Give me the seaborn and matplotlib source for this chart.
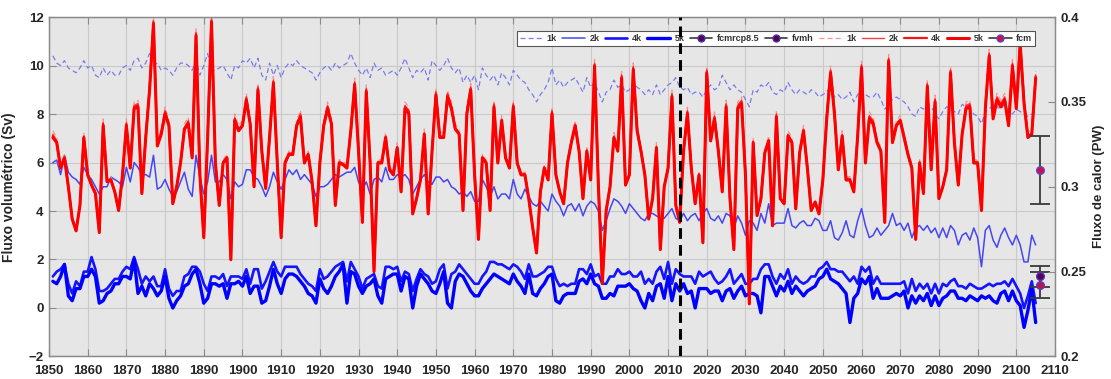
import matplotlib
matplotlib.use("Agg")
import matplotlib.pyplot as plt
import seaborn as sns
from matplotlib.lines import Line2D
from matplotlib.ticker import FuncFormatter

# Annual values, 1851-2105
years = list(range(1851, 2106))

# Volume transport (Sv), left axis
blue_1k = [
    10.4, 10.1, 10.0, 10.2, 9.9, 9.8, 9.7, 9.9, 10.2, 9.9,
    10.0, 9.6, 9.5, 9.9, 9.6, 9.8, 9.6, 9.6, 9.9, 10.0,
    9.8, 10.2, 10.3, 9.9, 10.1, 10.5, 10.0, 10.1, 9.8, 9.9,
    9.8, 9.6, 9.9, 10.1, 10.1, 10.0, 9.8, 10.2, 9.6, 10.0,
    10.5, 9.8, 9.8, 9.9, 10.0, 9.7, 9.4, 10.0, 9.9, 10.2,
    10.1, 10.3, 9.9, 10.3, 9.6, 9.4, 10.1, 9.6, 10.0, 9.5,
    9.9, 10.1, 10.0, 10.2, 10.0, 9.9, 9.8, 9.7, 9.4, 9.7,
    9.9, 10.0, 9.8, 10.1, 9.9, 10.0, 10.1, 10.5, 10.1, 9.8,
    9.6, 9.9, 9.5, 10.1, 9.8, 9.9, 9.6, 9.7, 9.8, 9.6,
    9.9, 10.3, 9.9, 9.5, 9.8, 9.7, 9.9, 9.4, 10.2, 10.0,
    9.8, 10.0, 10.3, 9.9, 9.7, 9.9, 9.3, 9.6, 9.3, 9.6,
    9.0, 9.9, 9.6, 9.4, 9.6, 9.2, 9.7, 9.5, 9.2, 9.8,
    9.6, 9.4, 9.3, 9.0, 8.8, 8.5, 8.8, 9.0, 9.3, 9.9,
    9.2, 9.4, 9.1, 9.3, 9.4, 9.5, 9.2, 8.9, 9.5, 9.1,
    9.3, 8.9, 8.5, 8.9, 9.0, 9.4, 9.1, 9.2, 8.9, 9.0,
    9.3, 9.1, 9.0, 8.8, 9.0, 8.8, 9.2, 8.8, 9.0, 9.2,
    9.3, 9.5, 9.1, 9.0, 9.1, 8.8, 8.9, 8.9, 8.7, 9.0,
    9.2, 9.0, 9.1, 9.6, 9.3, 9.0, 9.2, 9.0, 8.9, 8.6,
    8.3, 9.0, 8.9, 9.2, 9.1, 9.3, 8.9, 8.8, 9.0, 8.9,
    9.3, 9.0, 8.8, 9.0, 8.9, 8.8, 9.0, 8.9, 8.7, 8.8,
    8.9, 9.2, 8.7, 8.8, 8.6, 8.7, 8.9, 8.5, 8.8, 9.0,
    8.8, 8.7, 8.7, 8.9, 8.6, 8.2, 8.4, 8.6, 8.7, 8.6,
    8.5, 8.3, 8.0, 7.9, 8.3, 8.2, 8.4, 8.3, 8.0, 7.8,
    8.1, 8.3, 8.2, 8.1, 8.0, 8.4, 8.3, 8.2, 8.0, 7.9,
    7.6, 8.1, 8.2, 8.4, 8.3, 8.2, 8.4, 8.1, 8.0, 8.2,
    8.1, 8.0, 7.9, 8.0, 8.1,
]

blue_2k = [
    6.0, 6.1, 5.5, 6.3, 5.6, 5.4, 5.3, 5.1, 5.8, 5.5,
    5.3, 5.0, 4.7, 5.0, 5.0, 5.4, 5.3, 5.2, 5.0, 5.8,
    5.2, 6.0, 5.8, 5.5, 5.5, 5.4, 6.3, 4.9, 5.0, 5.3,
    4.9, 4.6, 4.8, 5.2, 5.6, 4.9, 4.6, 6.3, 5.4, 4.7,
    5.2, 6.3, 5.2, 5.2, 5.5, 5.3, 4.5, 5.2, 5.0, 5.1,
    5.7, 5.7, 5.4, 5.3, 5.0, 4.6, 5.0, 5.6, 5.2, 4.9,
    5.3, 5.7, 5.5, 5.7, 5.3, 5.5, 5.3, 5.1, 4.6, 5.0,
    5.0, 5.1, 5.3, 5.5, 5.4, 5.5, 5.6, 5.6, 5.8, 5.2,
    4.9, 5.2, 4.7, 5.3, 5.4, 5.2, 5.8, 5.3, 5.3, 5.5,
    5.4, 5.5, 5.3, 4.7, 5.0, 5.3, 5.5, 5.2, 5.1, 5.4,
    5.4, 5.2, 5.3, 5.0, 4.9, 4.7, 4.8, 4.6, 4.8, 4.4,
    4.4, 5.3, 5.0, 4.6, 5.0, 4.5, 4.7, 4.7, 4.5, 5.3,
    4.7, 4.5, 4.9, 4.6, 4.3, 4.2, 4.4, 4.2, 4.0, 4.7,
    4.4, 4.2, 3.8, 4.2, 4.3, 4.0, 4.3, 3.8, 4.2, 4.4,
    4.3, 4.0, 3.2, 3.6, 4.1, 4.5, 4.4, 4.2, 3.9, 4.3,
    4.1, 3.9, 3.7, 3.6, 3.9, 3.9, 3.8, 3.7, 3.7, 3.9,
    4.1, 3.7, 3.6, 3.9, 3.6, 3.8, 3.9, 3.6, 3.9, 4.1,
    3.7, 3.6, 3.8, 3.5, 3.9, 3.8, 3.3, 3.8, 3.5, 3.0,
    3.6, 3.5, 3.2, 3.9, 3.5, 4.3, 3.4, 3.5, 3.5, 3.5,
    4.1, 3.4, 3.3, 3.5, 3.6, 3.4, 3.4, 3.7, 3.6, 3.2,
    3.2, 3.6, 2.9, 2.8, 3.1, 3.6, 3.0, 2.9, 3.6, 4.1,
    3.4, 2.9, 3.0, 3.3, 3.0, 3.2, 3.4, 3.9, 3.4, 3.5,
    3.2, 3.5, 2.9, 3.3, 3.4, 3.2, 3.4, 3.1, 3.3, 2.9,
    3.3, 2.9, 3.4, 3.2, 2.6, 3.0, 3.1, 2.8, 3.3, 2.9,
    1.7, 3.2, 3.4, 2.8, 2.5, 3.0, 3.3, 2.9, 2.6, 3.0,
    2.6, 1.9, 1.9, 3.0, 2.6,
]

blue_4k = [
    1.3, 1.5, 1.6, 1.8, 1.0, 0.6, 1.1, 0.9, 1.5, 1.5,
    2.1, 1.6, 0.7, 0.7, 0.8, 1.0, 1.2, 1.2, 1.5, 1.7,
    1.6, 2.1, 1.6, 1.0, 1.3, 1.1, 1.3, 0.9, 0.9, 1.6,
    0.8, 0.5, 0.7, 0.7, 1.3, 1.4, 1.7, 1.7, 1.5, 1.0,
    0.7, 1.3, 1.3, 1.2, 1.4, 0.9, 1.3, 1.3, 1.3, 1.2,
    1.6, 1.0, 1.6, 1.6, 0.8, 1.1, 1.5, 1.9, 1.5, 1.3,
    1.7, 1.7, 1.7, 1.7, 1.4, 1.2, 1.0, 0.9, 0.7, 1.6,
    1.2, 1.3, 1.5, 1.7, 1.8, 1.9, 1.1, 1.9, 1.6, 1.3,
    0.8, 1.2, 1.3, 1.4, 0.9, 0.8, 1.7, 1.7, 1.6, 1.7,
    1.1, 1.5, 1.4, 0.7, 1.2, 1.6, 1.4, 1.3, 1.0, 1.1,
    1.6, 1.8, 0.8, 1.4, 1.5, 1.8, 1.6, 1.4, 1.2, 1.0,
    1.0, 1.3, 1.5, 1.9, 1.9, 1.8, 1.8, 1.7, 1.6, 1.8,
    1.7, 1.5, 1.2, 1.8, 1.3, 1.3, 1.4, 1.5, 1.7, 1.7,
    1.2, 0.9, 1.0, 0.9, 1.0, 1.0, 1.6, 1.6, 1.4, 1.8,
    1.3, 1.4, 1.0, 1.0, 1.3, 1.3, 1.6, 1.4, 1.4, 1.5,
    1.3, 1.3, 1.5, 1.0, 1.2, 1.0, 1.5, 1.7, 1.2, 1.9,
    1.0, 1.6, 1.4, 1.3, 1.3, 1.3, 1.0, 1.5, 1.3, 1.4,
    1.5, 1.2, 1.0, 1.1, 1.3, 1.6, 1.0, 1.2, 1.4, 1.0,
    1.0, 1.2, 1.2, 1.6, 1.8, 1.8, 1.3, 1.0, 1.4, 1.2,
    1.6, 1.0, 1.3, 1.1, 1.0, 1.1, 1.3, 1.3, 1.6, 1.7,
    1.9, 1.6, 1.6, 1.5, 1.5, 1.3, 1.1, 1.3, 1.0, 1.7,
    1.5, 1.7, 1.0, 1.3, 1.0, 1.0, 1.0, 1.0, 1.0, 1.0,
    1.1, 0.6, 1.2, 0.7, 1.0, 0.8, 1.0, 0.6, 1.0, 0.6,
    1.0, 0.9, 1.1, 1.2, 0.9, 0.9, 0.8, 1.0, 0.9, 0.8,
    0.8, 0.9, 1.0, 0.9, 1.0, 1.0, 1.1, 0.9, 1.2, 0.9,
    0.6, 0.0, 0.5, 1.1, 0.2,
]

blue_5k = [
    1.1, 1.0, 1.3, 1.8, 0.5, 0.3, 0.8, 0.8, 1.3, 1.3,
    1.6, 1.3, 0.2, 0.3, 0.6, 0.7, 1.0, 1.0, 1.3, 1.3,
    1.2, 2.0, 0.6, 0.9, 0.5, 1.0, 0.8, 0.5, 0.7, 1.3,
    0.4, 0.0, 0.3, 0.5, 0.9, 1.0, 1.4, 1.6, 1.0, 0.2,
    0.4, 1.0, 1.0, 0.9, 1.0, 0.4, 1.0, 1.0, 1.1, 0.9,
    1.3, 0.6, 0.9, 0.9, 0.2, 0.3, 0.9, 1.6, 1.0, 0.6,
    1.2, 1.4, 1.4, 1.3, 1.1, 0.9, 0.6, 0.5, 0.2, 1.2,
    0.8, 0.6, 0.9, 1.3, 1.5, 1.8, 0.2, 1.5, 1.4, 0.9,
    0.6, 0.9, 1.0, 1.2, 0.5, 0.2, 1.2, 1.3, 1.4, 1.4,
    0.7, 1.3, 1.2, 0.0, 0.9, 1.4, 1.2, 1.0, 0.7, 0.6,
    1.0, 1.5, 0.2, 0.0, 1.1, 1.4, 1.3, 1.0, 0.7, 0.5,
    0.5, 0.8, 1.0, 1.2, 1.4, 1.3, 1.2, 1.1, 1.0, 1.4,
    1.1, 0.9, 0.6, 1.4, 0.6, 0.5, 0.8, 1.0, 1.3, 1.4,
    0.3, 0.2, 0.5, 0.6, 0.6, 0.6, 1.1, 1.2, 1.0, 1.4,
    1.0, 0.9, 0.4, 0.4, 0.6, 0.5, 0.9, 0.9, 0.9, 1.0,
    0.8, 0.7, 0.3, 0.0, 0.6, 0.3, 0.9, 1.0, 0.4, 1.3,
    0.3, 1.0, 0.7, 1.0, 0.6, 0.7, 0.0, 0.8, 0.8, 0.8,
    0.6, 0.7, 0.7, 0.3, 0.7, 0.8, 0.4, 0.7, 0.9, 0.5,
    0.6, 0.6, 0.5, -0.2, 1.3, 1.3, 0.9, 0.5, 0.9, 0.7,
    1.1, 0.6, 0.9, 0.7, 0.5, 0.7, 0.8, 0.9, 1.2, 1.3,
    1.6, 1.2, 1.1, 1.0, 0.8, 0.6, -0.6, 0.4, 0.6, 1.2,
    1.0, 1.3, 0.4, 0.8, 0.4, 0.4, 0.4, 0.5, 0.6, 0.5,
    0.7, 0.0, 0.5, 0.2, 0.5, 0.3, 0.6, 0.1, 0.5, 0.1,
    0.4, 0.5, 0.7, 0.7, 0.4, 0.4, 0.3, 0.5, 0.4, 0.3,
    0.5, 0.4, 0.5, 0.3, 0.2, 0.6, 0.7, 0.3, 0.7, 0.3,
    0.1, -0.8, -0.1, 0.8, -0.6,
]

# Heat transport (PW), right axis
red_1k = [
    0.333, 0.329, 0.313, 0.319, 0.301, 0.282, 0.275, 0.290, 0.332, 0.309,
    0.302, 0.298, 0.274, 0.340, 0.305, 0.306, 0.298, 0.287, 0.309, 0.340,
    0.313, 0.350, 0.351, 0.297, 0.332, 0.361, 0.400, 0.327, 0.334, 0.347,
    0.339, 0.291, 0.301, 0.316, 0.337, 0.341, 0.319, 0.393, 0.309, 0.271,
    0.332, 0.400, 0.316, 0.290, 0.316, 0.319, 0.258, 0.343, 0.336, 0.339,
    0.355, 0.340, 0.301, 0.361, 0.323, 0.300, 0.332, 0.365, 0.316, 0.271,
    0.316, 0.321, 0.322, 0.339, 0.345, 0.316, 0.321, 0.304, 0.278, 0.316,
    0.339, 0.350, 0.340, 0.290, 0.316, 0.315, 0.313, 0.336, 0.364, 0.323,
    0.280, 0.360, 0.316, 0.251, 0.316, 0.316, 0.332, 0.312, 0.309, 0.326,
    0.298, 0.350, 0.347, 0.285, 0.294, 0.306, 0.334, 0.285, 0.323, 0.358,
    0.332, 0.332, 0.357, 0.350, 0.337, 0.334, 0.287, 0.347, 0.361, 0.309,
    0.270, 0.319, 0.316, 0.287, 0.351, 0.316, 0.342, 0.319, 0.313, 0.351,
    0.316, 0.309, 0.309, 0.294, 0.277, 0.262, 0.298, 0.313, 0.306, 0.347,
    0.309, 0.298, 0.291, 0.316, 0.329, 0.339, 0.323, 0.294, 0.323, 0.306,
    0.375, 0.301, 0.244, 0.287, 0.301, 0.332, 0.323, 0.368, 0.302, 0.309,
    0.373, 0.336, 0.323, 0.309, 0.282, 0.294, 0.326, 0.264, 0.301, 0.313,
    0.357, 0.290, 0.280, 0.323, 0.347, 0.313, 0.291, 0.309, 0.268, 0.371,
    0.330, 0.344, 0.323, 0.298, 0.351, 0.294, 0.264, 0.350, 0.353, 0.309,
    0.232, 0.329, 0.284, 0.294, 0.322, 0.330, 0.278, 0.345, 0.294, 0.291,
    0.333, 0.329, 0.288, 0.322, 0.336, 0.313, 0.287, 0.292, 0.285, 0.306,
    0.344, 0.371, 0.347, 0.312, 0.333, 0.306, 0.306, 0.298, 0.333, 0.374,
    0.316, 0.344, 0.341, 0.329, 0.323, 0.280, 0.378, 0.329, 0.339, 0.342,
    0.332, 0.321, 0.313, 0.270, 0.316, 0.298, 0.363, 0.312, 0.354, 0.294,
    0.301, 0.312, 0.371, 0.329, 0.302, 0.334, 0.350, 0.351, 0.316, 0.316,
    0.287, 0.350, 0.381, 0.344, 0.355, 0.351, 0.355, 0.339, 0.375, 0.350,
    0.388, 0.353, 0.332, 0.334, 0.368,
]

red_2k = [
    0.331, 0.327, 0.312, 0.318, 0.300, 0.281, 0.274, 0.289, 0.330, 0.308,
    0.301, 0.297, 0.273, 0.338, 0.304, 0.305, 0.297, 0.286, 0.308, 0.338,
    0.312, 0.348, 0.349, 0.296, 0.330, 0.359, 0.398, 0.325, 0.332, 0.345,
    0.337, 0.290, 0.300, 0.315, 0.335, 0.339, 0.318, 0.391, 0.308, 0.270,
    0.330, 0.399, 0.315, 0.289, 0.315, 0.318, 0.257, 0.341, 0.334, 0.337,
    0.353, 0.338, 0.300, 0.359, 0.322, 0.299, 0.330, 0.363, 0.315, 0.270,
    0.315, 0.320, 0.320, 0.337, 0.343, 0.315, 0.320, 0.303, 0.277, 0.315,
    0.337, 0.348, 0.338, 0.289, 0.315, 0.314, 0.312, 0.334, 0.362, 0.322,
    0.279, 0.358, 0.315, 0.250, 0.315, 0.315, 0.330, 0.311, 0.308, 0.324,
    0.297, 0.348, 0.345, 0.284, 0.293, 0.305, 0.332, 0.284, 0.322, 0.356,
    0.330, 0.330, 0.355, 0.348, 0.335, 0.332, 0.286, 0.345, 0.359, 0.308,
    0.269, 0.318, 0.315, 0.286, 0.349, 0.315, 0.340, 0.318, 0.312, 0.349,
    0.315, 0.308, 0.308, 0.293, 0.276, 0.261, 0.297, 0.312, 0.305, 0.345,
    0.308, 0.297, 0.290, 0.315, 0.327, 0.337, 0.322, 0.293, 0.322, 0.305,
    0.373, 0.300, 0.243, 0.286, 0.300, 0.330, 0.322, 0.366, 0.301, 0.308,
    0.371, 0.334, 0.322, 0.308, 0.281, 0.293, 0.324, 0.263, 0.300, 0.312,
    0.355, 0.289, 0.279, 0.322, 0.345, 0.312, 0.290, 0.308, 0.267, 0.369,
    0.328, 0.342, 0.322, 0.297, 0.349, 0.293, 0.263, 0.348, 0.351, 0.308,
    0.231, 0.327, 0.283, 0.293, 0.321, 0.328, 0.277, 0.343, 0.293, 0.290,
    0.331, 0.327, 0.287, 0.321, 0.334, 0.312, 0.286, 0.291, 0.284, 0.305,
    0.342, 0.369, 0.345, 0.311, 0.331, 0.305, 0.305, 0.297, 0.331, 0.372,
    0.315, 0.342, 0.339, 0.327, 0.322, 0.279, 0.376, 0.327, 0.337, 0.340,
    0.330, 0.320, 0.312, 0.269, 0.315, 0.296, 0.361, 0.311, 0.352, 0.293,
    0.300, 0.311, 0.369, 0.327, 0.301, 0.332, 0.348, 0.349, 0.315, 0.315,
    0.286, 0.348, 0.379, 0.342, 0.353, 0.349, 0.353, 0.337, 0.373, 0.348,
    0.386, 0.351, 0.330, 0.332, 0.366,
]

red_4k = [
    0.330, 0.326, 0.311, 0.317, 0.300, 0.281, 0.274, 0.289, 0.329, 0.307,
    0.301, 0.296, 0.273, 0.337, 0.303, 0.304, 0.297, 0.286, 0.307, 0.337,
    0.311, 0.347, 0.348, 0.296, 0.329, 0.358, 0.397, 0.324, 0.331, 0.344,
    0.336, 0.290, 0.300, 0.314, 0.334, 0.338, 0.317, 0.390, 0.307, 0.270,
    0.329, 0.398, 0.314, 0.289, 0.314, 0.317, 0.257, 0.340, 0.333, 0.336,
    0.352, 0.337, 0.300, 0.358, 0.321, 0.299, 0.329, 0.362, 0.314, 0.270,
    0.314, 0.319, 0.319, 0.336, 0.342, 0.314, 0.319, 0.303, 0.277, 0.314,
    0.336, 0.347, 0.337, 0.289, 0.314, 0.313, 0.311, 0.333, 0.361, 0.321,
    0.279, 0.357, 0.314, 0.250, 0.314, 0.314, 0.329, 0.310, 0.307, 0.323,
    0.297, 0.347, 0.344, 0.284, 0.293, 0.304, 0.331, 0.284, 0.321, 0.355,
    0.329, 0.329, 0.354, 0.347, 0.334, 0.331, 0.286, 0.344, 0.358, 0.307,
    0.269, 0.317, 0.314, 0.286, 0.348, 0.314, 0.339, 0.317, 0.311, 0.348,
    0.314, 0.307, 0.307, 0.293, 0.276, 0.261, 0.297, 0.311, 0.304, 0.344,
    0.307, 0.297, 0.290, 0.314, 0.326, 0.336, 0.321, 0.293, 0.321, 0.304,
    0.372, 0.300, 0.243, 0.286, 0.300, 0.329, 0.321, 0.365, 0.301, 0.307,
    0.370, 0.333, 0.321, 0.307, 0.281, 0.293, 0.323, 0.263, 0.300, 0.311,
    0.354, 0.289, 0.279, 0.321, 0.344, 0.311, 0.290, 0.307, 0.267, 0.368,
    0.327, 0.341, 0.321, 0.297, 0.348, 0.293, 0.263, 0.347, 0.350, 0.307,
    0.231, 0.326, 0.283, 0.293, 0.320, 0.327, 0.277, 0.342, 0.293, 0.290,
    0.330, 0.326, 0.287, 0.320, 0.333, 0.311, 0.286, 0.291, 0.284, 0.304,
    0.341, 0.368, 0.344, 0.310, 0.330, 0.304, 0.304, 0.297, 0.330, 0.371,
    0.314, 0.341, 0.338, 0.326, 0.321, 0.279, 0.375, 0.326, 0.336, 0.339,
    0.329, 0.319, 0.311, 0.269, 0.314, 0.296, 0.360, 0.310, 0.351, 0.293,
    0.300, 0.310, 0.368, 0.326, 0.301, 0.331, 0.347, 0.348, 0.314, 0.314,
    0.286, 0.347, 0.378, 0.341, 0.352, 0.348, 0.352, 0.336, 0.372, 0.347,
    0.385, 0.350, 0.329, 0.331, 0.365,
]

red_5k = [
    0.329, 0.326, 0.311, 0.317, 0.300, 0.281, 0.274, 0.289, 0.329, 0.307,
    0.301, 0.296, 0.273, 0.336, 0.303, 0.304, 0.297, 0.286, 0.307, 0.336,
    0.311, 0.346, 0.347, 0.296, 0.329, 0.357, 0.396, 0.324, 0.331, 0.343,
    0.336, 0.290, 0.300, 0.314, 0.334, 0.337, 0.317, 0.389, 0.307, 0.270,
    0.329, 0.397, 0.314, 0.289, 0.314, 0.317, 0.257, 0.339, 0.333, 0.336,
    0.351, 0.337, 0.300, 0.357, 0.321, 0.299, 0.329, 0.361, 0.314, 0.270,
    0.314, 0.319, 0.319, 0.336, 0.341, 0.314, 0.319, 0.303, 0.277, 0.314,
    0.336, 0.346, 0.337, 0.289, 0.314, 0.313, 0.311, 0.333, 0.360, 0.321,
    0.279, 0.356, 0.314, 0.250, 0.314, 0.314, 0.329, 0.310, 0.307, 0.323,
    0.297, 0.346, 0.343, 0.284, 0.293, 0.304, 0.331, 0.284, 0.321, 0.354,
    0.329, 0.329, 0.353, 0.346, 0.334, 0.331, 0.286, 0.343, 0.357, 0.307,
    0.269, 0.317, 0.314, 0.286, 0.347, 0.314, 0.339, 0.317, 0.311, 0.347,
    0.314, 0.307, 0.307, 0.293, 0.276, 0.261, 0.297, 0.311, 0.304, 0.343,
    0.307, 0.297, 0.290, 0.314, 0.326, 0.336, 0.321, 0.293, 0.321, 0.304,
    0.371, 0.300, 0.243, 0.286, 0.300, 0.329, 0.321, 0.364, 0.301, 0.307,
    0.369, 0.333, 0.321, 0.307, 0.281, 0.293, 0.323, 0.263, 0.300, 0.311,
    0.353, 0.289, 0.279, 0.321, 0.343, 0.311, 0.290, 0.307, 0.267, 0.367,
    0.327, 0.340, 0.321, 0.297, 0.347, 0.293, 0.263, 0.346, 0.349, 0.307,
    0.231, 0.326, 0.283, 0.293, 0.320, 0.327, 0.277, 0.341, 0.293, 0.290,
    0.330, 0.326, 0.287, 0.320, 0.333, 0.311, 0.286, 0.291, 0.284, 0.304,
    0.340, 0.367, 0.343, 0.310, 0.330, 0.304, 0.304, 0.297, 0.330, 0.370,
    0.314, 0.340, 0.337, 0.326, 0.321, 0.279, 0.374, 0.326, 0.336, 0.339,
    0.329, 0.319, 0.311, 0.269, 0.314, 0.296, 0.359, 0.310, 0.350, 0.293,
    0.300, 0.310, 0.367, 0.326, 0.301, 0.331, 0.346, 0.347, 0.314, 0.314,
    0.286, 0.346, 0.377, 0.340, 0.351, 0.347, 0.351, 0.336, 0.371, 0.346,
    0.384, 0.349, 0.329, 0.331, 0.364,
]

# Reference estimates with uncertainty, plotted beyond the last year
ref_year = 2106
fcmrcp85_mean, fcmrcp85_err = 1.30, 0.42   # Sv
fvmh_mean, fvmh_err = 0.95, 0.52           # Sv
fcm_mean, fcm_err = 0.310, 0.020           # PW

split_year = 2013
x_ticks = list(range(1850, 2111, 10))
sv_ticks = [-2, 0, 2, 4, 6, 8, 10, 12]
pw_ticks = [0.2, 0.25, 0.3, 0.35, 0.4]

sns.set_style("ticks")
plt.rcParams["font.family"] = ["Liberation Sans", "DejaVu Sans"]

fig = plt.figure(figsize=(11.11, 3.79), dpi=100)
ax = fig.add_axes([0.0441, 0.0594, 0.9055, 0.8957])
ax2 = ax.twinx()

panel_bg = "#e6e6e6"
grid_c = "#c9c9c9"
frame_c = "#8a8a8a"
ax.set_facecolor(panel_bg)
ax.grid(True, color=grid_c, linewidth=0.8)
ax.set_axisbelow(True)

blue_styles = [
    (blue_1k, "#7b7bee", 0.9, (0, (4, 2.5))),
    (blue_2k, "#4646f2", 1.1, "-"),
    (blue_4k, "#1414ff", 1.9, "-"),
    (blue_5k, "#0000ff", 2.4, "-"),
]
for vals, col, lw, ls in blue_styles:
    sns.lineplot(x=years, y=vals, ax=ax, color=col, linewidth=lw,
                 linestyle=ls, legend=False)

red_styles = [
    (red_1k, "#ff8f8f", 0.9, (0, (4, 2.5))),
    (red_2k, "#ff3a3a", 1.0, "-"),
    (red_4k, "#ff1414", 1.6, "-"),
    (red_5k, "#ff0000", 2.2, "-"),
]
for vals, col, lw, ls in red_styles:
    sns.lineplot(x=years, y=vals, ax=ax2, color=col, linewidth=lw,
                 linestyle=ls, legend=False)

err_c = "#3a3a3a"
ax.errorbar([ref_year], [fcmrcp85_mean], yerr=[fcmrcp85_err], fmt="o",
            color=err_c, ecolor=err_c, elinewidth=1.3, capsize=7.5,
            capthick=1.3, markersize=5.5, markerfacecolor="#5a0050",
            markeredgecolor="#4a35b0", zorder=5)
ax.errorbar([ref_year], [fvmh_mean], yerr=[fvmh_err], fmt="o",
            color=err_c, ecolor=err_c, elinewidth=1.3, capsize=7.5,
            capthick=1.3, markersize=5.5, markerfacecolor="#c0104a",
            markeredgecolor="#5a3ac0", zorder=5)
ax2.errorbar([ref_year], [fcm_mean], yerr=[fcm_err], fmt="o",
             color=err_c, ecolor=err_c, elinewidth=1.3, capsize=7.5,
             capthick=1.3, markersize=5.5, markerfacecolor="#d0103a",
             markeredgecolor="#5a48d0", zorder=5)

ax.set_xlim(1850, 2110)
ax.set_ylim(-2, 12)
ax2.set_ylim(0.2, 0.4)
ax.set_xticks(x_ticks)
ax.set_yticks(sv_ticks)
ax2.set_yticks(pw_ticks)
ax2.yaxis.set_major_formatter(FuncFormatter(lambda v, p: f"{v:g}"))
ax.set_xlabel("")

for a in (ax, ax2):
    for s in a.spines.values():
        s.set_color(frame_c)
        s.set_linewidth(0.9)
ax.tick_params(axis="x", direction="in", length=5, width=0.8,
               color=frame_c, top=True, labelsize=9.5, pad=6)
ax.tick_params(axis="y", direction="in", length=5, width=0.8,
               color=frame_c, labelsize=9.5, pad=4)
ax2.tick_params(axis="y", direction="in", length=5, width=0.8,
                color=frame_c, labelsize=9.5, pad=4)
for lab in ax.get_xticklabels() + ax.get_yticklabels() + ax2.get_yticklabels():
    lab.set_fontweight("bold")

ax.set_ylabel("Fluxo volumétrico (Sv)", fontsize=10, fontweight="bold")
ax2.set_ylabel("Fluxo de calor (PW)", fontsize=9.5, fontweight="bold")
ax.yaxis.set_label_coords(-0.033, 0.5)
ax2.yaxis.set_label_coords(1.038, 0.5)

handles = [
    Line2D([], [], color="#7b7bee", lw=0.9, ls=(0, (4, 2.5))),
    Line2D([], [], color="#4646f2", lw=1.1),
    Line2D([], [], color="#1414ff", lw=1.9),
    Line2D([], [], color="#0000ff", lw=2.4),
    Line2D([], [], color=err_c, lw=1.2, marker="o", markersize=5,
           markerfacecolor="#5a0050", markeredgecolor="#4a35b0"),
    Line2D([], [], color=err_c, lw=1.2, marker="o", markersize=5,
           markerfacecolor="#5a0050", markeredgecolor="#4a35b0"),
    Line2D([], [], color="#ff8f8f", lw=0.9, ls=(0, (4, 2.5))),
    Line2D([], [], color="#ff3a3a", lw=1.0),
    Line2D([], [], color="#ff1414", lw=1.6),
    Line2D([], [], color="#ff0000", lw=2.2),
    Line2D([], [], color=err_c, lw=1.2, marker="o", markersize=5,
           markerfacecolor="#d0103a", markeredgecolor="#5a48d0"),
]
labels = ["1k", "2k", "4k", "5k", "fcmrcp8.5", "fvmh",
          "1k", "2k", "4k", "5k", "fcm"]
leg = ax2.legend(handles, labels, loc="upper right",
                 bbox_to_anchor=(0.985, 0.972), ncol=11, fontsize=6.5,
                 handlelength=2.5, handletextpad=0.5, columnspacing=0.6,
                 borderpad=0.35, frameon=True, fancybox=False)
leg.get_frame().set_edgecolor("#555555")
leg.get_frame().set_linewidth(0.8)
leg.get_frame().set_alpha(1.0)
for t in leg.get_texts():
    t.set_fontweight("bold")
    t.set_color("#333333")

ax2.axvline(split_year, color="black", linewidth=2.2,
            linestyle=(0, (3.5, 2)), zorder=10)

fig.savefig("out.png", dpi=100)
